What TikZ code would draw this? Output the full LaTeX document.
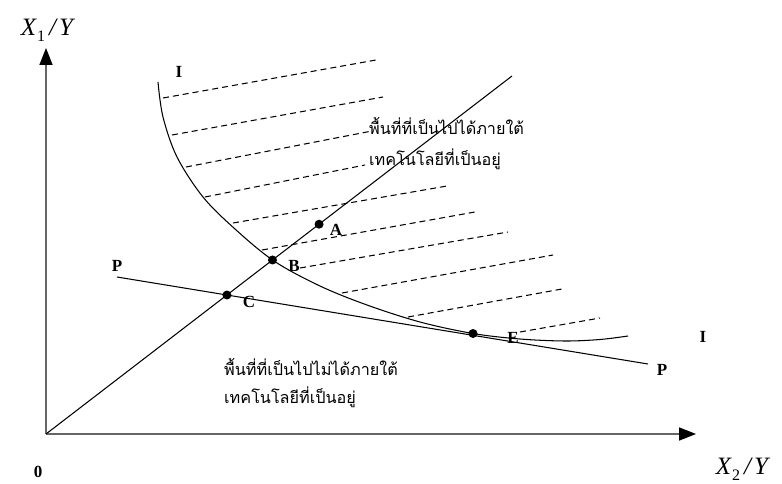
\documentclass[tikz,border=0pt]{standalone}
\usepackage{fontspec}
\setmainfont{Liberation Serif}
\newfontfamily\thaifont[Script=Thai]{Loma}
\usetikzlibrary{arrows.meta,intersections}
\begin{document}
\begin{tikzpicture}[x=1pt,y=-1pt,
  axis/.style={draw=black!60, line width=1.7pt},
  thinline/.style={draw=black, line width=1.05pt},
  hatch/.style={draw=black, line width=1.05pt, dash pattern=on 6pt off 4pt},
  ptlabel/.style={font=\fontsize{17}{17}\selectfont\bfseries, inner sep=0pt},
  dotmark/.style={circle, fill=black, inner sep=0pt, minimum size=9pt},
  thai/.style={font=\thaifont\fontsize{16.2}{30}\selectfont, inner sep=0pt, anchor=base west},
  axlabel/.style={font=\fontsize{25}{25}\selectfont\itshape, inner sep=0pt},
  tip/.style={-{Triangle[length=17pt,width=13pt,color=black]}}]
\useasboundingbox (0,0) rectangle (782,484);

% axes
\coordinate (O) at (46,434);
\coordinate (Ytop) at (46,48);
\coordinate (Xend) at (696,434);
\draw[axis,tip] (O) -- (Ytop);
\draw[axis,tip] (O) -- (Xend);

% ray and price line
\coordinate (Rend) at (512,76);
\draw[thinline, name path=ray] (O) -- (Rend);
\coordinate (P1) at (117,277);
\coordinate (P2) at (648,364);
\draw[thinline, name path=pline] (P1) -- (P2);

% isoquant
\draw[thinline, name path=icurve] plot[smooth, tension=0.55] coordinates {
  (158,82) (163,117) (177,157) (203,197) (235,229) (274,261) (320,286)
  (367,305) (420,322) (473,333.5) (520,339) (565,341) (600,339.5) (628,336)};

% hatching
\draw[hatch] (163,98) -- (376,60);
\draw[hatch] (172,135) -- (383,97);
\draw[hatch] (186,167) -- (372,131);
\draw[hatch] (205,197) -- (365,165);
\draw[hatch] (233,223) -- (447,186);
\draw[hatch] (262,250) -- (475,212);
\draw[hatch] (300,268) -- (508,232);
\draw[hatch] (342,293) -- (553,255);
\draw[hatch] (408,317) -- (562,289);
\draw[hatch] (520,332) -- (600,318);

% points
\path[name intersections={of=ray and pline, by=C}];
\path[name intersections={of=ray and icurve, by=B}];
\path (O) -- (Rend) coordinate[pos=0.586] (A);
\coordinate (E) at (473,333.5);
\node[dotmark] (dA) at (A) {};
\node[dotmark] (dB) at (B) {};
\node[dotmark] (dC) at (C) {};
\node[dotmark] (dE) at (E) {};

% labels
\node[ptlabel] (lA) at (336,230) {A};
\node[ptlabel] (lB) at (294,266) {B};
\node[ptlabel] (lC) at (249,302) {C};
\node[ptlabel] (lE) at (513,338) {E};
\node[ptlabel] (lI1) at (179,72) {I};
\node[ptlabel] (lI2) at (703,337) {I};
\node[ptlabel] (lP1) at (117,266) {P};
\node[ptlabel] (lP2) at (662,370) {P};
\node[ptlabel] (l0) at (38,472) {0};

\node[axlabel] (ly) at (47,30) {X\kern1pt\raisebox{-6pt}{\fontsize{16}{16}\selectfont\upshape 1}\kern4pt/\kern3pt Y};
\node[axlabel] (lx) at (742,469) {X\kern1pt\raisebox{-6pt}{\fontsize{16}{16}\selectfont\upshape 2}\kern4pt/\kern3pt Y};

% Thai texts
\node[thai] (t1) at (369,135) {พื้นที่ที่เป็นไปได้ภายใต้};
\node[thai] (t2) at (369,165) {เทคโนโลยีที่เป็นอยู่};
\node[thai] (t3) at (224,375) {พื้นที่ที่เป็นไปไม่ได้ภายใต้};
\node[thai] (t4) at (224,403) {เทคโนโลยีที่เป็นอยู่};
\end{tikzpicture}
\end{document}
